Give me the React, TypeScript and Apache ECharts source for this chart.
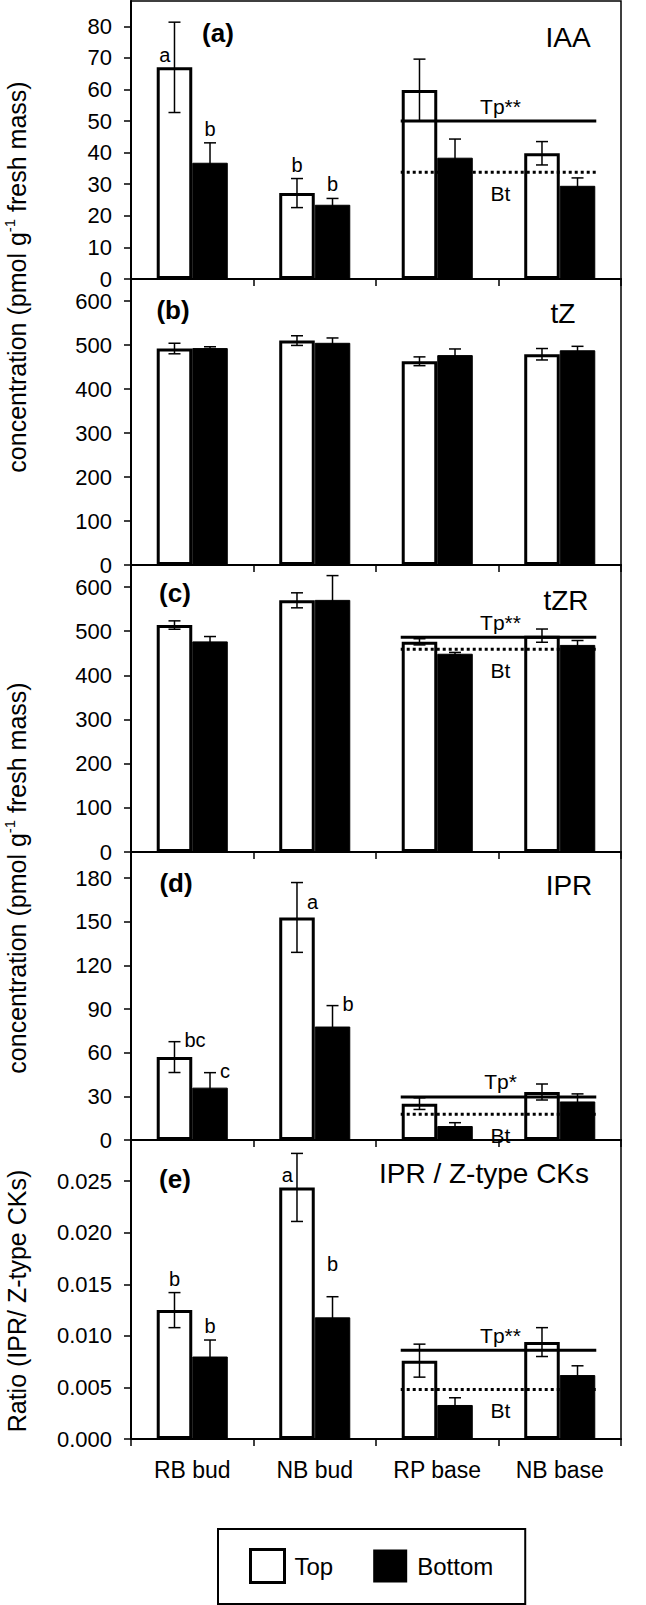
import React, { useEffect, useRef } from "react";
import * as echarts from "echarts";

const FONT = "'Liberation Sans', Arial, Helvetica, sans-serif";

const CATEGORIES = ["RB bud", "NB bud", "RP base", "NB base"];
const SERIES_NAMES = ["Top", "Bottom"];

// (a) IAA
const IAA_TOP = [67, 27.2, 59.8, 39.8];
const IAA_TOP_ERR = [14.3, 4.6, 9.8, 3.7];
const IAA_BOT = [36.8, 23.5, 38.4, 29.5];
const IAA_BOT_ERR = [6.3, 2.0, 5.9, 2.5];
const IAA_TP = 50;
const IAA_BT = 33.8;

// (b) tZ
const TZ_TOP = [492, 510, 463, 479];
const TZ_TOP_ERR = [12, 11, 10, 13];
const TZ_BOT = [493, 505, 477, 488];
const TZ_BOT_ERR = [3, 11, 14, 9];

// (c) tZR
const TZR_TOP = [514, 570, 476, 490];
const TZR_TOP_ERR = [9.5, 17, 7, 15];
const TZR_BOT = [477, 571, 449, 469];
const TZR_BOT_ERR = [11, 55, 3, 10];
const TZR_TP = 486.5;
const TZR_BT = 459;

// (d) IPR
const IPR_TOP = [57, 153, 25, 33];
const IPR_TOP_ERR = [10.6, 24, 4, 5.5];
const IPR_BOT = [36, 78, 9.6, 26.5];
const IPR_BOT_ERR = [10.3, 14.4, 2.3, 5.2];
const IPR_TP = 29.6;
const IPR_BT = 17.7;

// (e) IPR / Z-type CKs
const RATIO_TOP = [0.0125, 0.0244, 0.0076, 0.0094];
const RATIO_TOP_ERR = [0.0017, 0.0033, 0.0016, 0.0014];
const RATIO_BOT = [0.008, 0.0118, 0.0033, 0.0062];
const RATIO_BOT_ERR = [0.0016, 0.002, 0.0007, 0.0009];
const RATIO_TP = 0.0086;
const RATIO_BT = 0.0048;

// significance letters
const IAA_LETTERS = [["a", "b", "", ""], ["b", "b", "", ""]];
const IAA_PLACES = [["left", "top", "", ""], ["top", "top", "", ""]];
const IPR_LETTERS = [["bc", "a", "", ""], ["c", "b", "", ""]];
const IPR_PLACES = [["right", "rightBar", "", ""], ["right", "right", "", ""]];
const RATIO_LETTERS = [["b", "a", "", ""], ["b", "b", "", ""]];
const RATIO_PLACES = [["top", "left", "", ""], ["top", "topHigh", "", ""]];

const BAR_GAP_CAT = 0.42;
const BAR_FRAC = (1 - BAR_GAP_CAT) / 2;

type Panel = {
  top: number;
  height: number;
  max: number;
  interval: number;
  dec: number;
  vals: number[][];
  errs: number[][];
  tp?: number;
  bt?: number;
  tpLabel?: string;
  letters?: string[][];
  places?: string[][];
  tag: string;
  tagX: number;
  tagY: number;
  name: string;
  nameX: number;
  nameY: number;
};

const PANELS: Panel[] = [
  { top: 1, height: 278, max: 88, interval: 10, dec: 0, vals: [IAA_TOP, IAA_BOT], errs: [IAA_TOP_ERR, IAA_BOT_ERR], tp: IAA_TP, bt: IAA_BT, tpLabel: "Tp**", letters: IAA_LETTERS, places: IAA_PLACES, tag: "(a)", tagX: 218, tagY: 33, name: "IAA", nameX: 568, nameY: 37 },
  { top: 279, height: 286, max: 650, interval: 100, dec: 0, vals: [TZ_TOP, TZ_BOT], errs: [TZ_TOP_ERR, TZ_BOT_ERR], tag: "(b)", tagX: 173, tagY: 310, name: "tZ", nameX: 563, nameY: 313 },
  { top: 565, height: 287, max: 650, interval: 100, dec: 0, vals: [TZR_TOP, TZR_BOT], errs: [TZR_TOP_ERR, TZR_BOT_ERR], tp: TZR_TP, bt: TZR_BT, tpLabel: "Tp**", tag: "(c)", tagX: 175, tagY: 593, name: "tZR", nameX: 566, nameY: 600 },
  { top: 852, height: 288, max: 198, interval: 30, dec: 0, vals: [IPR_TOP, IPR_BOT], errs: [IPR_TOP_ERR, IPR_BOT_ERR], tp: IPR_TP, bt: IPR_BT, tpLabel: "Tp*", letters: IPR_LETTERS, places: IPR_PLACES, tag: "(d)", tagX: 176, tagY: 883, name: "IPR", nameX: 569, nameY: 885 },
  { top: 1140, height: 299, max: 0.029, interval: 0.005, dec: 3, vals: [RATIO_TOP, RATIO_BOT], errs: [RATIO_TOP_ERR, RATIO_BOT_ERR], tp: RATIO_TP, bt: RATIO_BT, tpLabel: "Tp**", letters: RATIO_LETTERS, places: RATIO_PLACES, tag: "(e)", tagX: 175, tagY: 1179, name: "IPR / Z-type CKs", nameX: 484, nameY: 1173 },
];

const Y_TITLES = [
  { text: "concentration (pmol g{sup|-1} fresh mass)", y: 277 },
  { text: "concentration (pmol g{sup|-1} fresh mass)", y: 878 },
  { text: "Ratio (IPR/ Z-type CKs)", y: 1301 },
];

function letterEl(text: string, place: string, x: number, yErr: number, yBar: number) {
  let px = x, py = yErr - 14, align = "center";
  if (place === "left") { px = x - 4; py = yBar - 12; align = "right"; }
  else if (place === "right") { px = x + 10; py = yErr - 2; align = "left"; }
  else if (place === "rightBar") { px = x + 10; py = yBar - 15; align = "left"; }
  else if (place === "topHigh") { py = yErr - 33; }
  return {
    type: "text",
    x: px,
    y: py,
    style: { text, fill: "#000", fontSize: 20, fontFamily: FONT, align, verticalAlign: "middle" },
  };
}

function buildOption() {
  const grid: any[] = [];
  const xAxis: any[] = [];
  const yAxis: any[] = [];
  const series: any[] = [];

  PANELS.forEach((p, i) => {
    grid.push({ left: 131, right: 25, top: p.top, height: p.height, show: true, borderColor: "#000", borderWidth: 1.5 });
    xAxis.push({
      type: "category",
      gridIndex: i,
      data: CATEGORIES,
      boundaryGap: true,
      axisLine: { lineStyle: { color: "#000", width: 2 } },
      axisTick: { show: true, length: 7, lineStyle: { color: "#000", width: 1.5 } },
      axisLabel: { show: i === PANELS.length - 1, color: "#000", fontSize: 23, fontFamily: FONT, margin: 19 },
    });
    yAxis.push({
      type: "value",
      gridIndex: i,
      min: 0,
      max: p.max,
      interval: p.interval,
      splitLine: { show: false },
      axisLine: { show: true, lineStyle: { color: "#000", width: 2 } },
      axisTick: { show: true, length: 7, lineStyle: { color: "#000", width: 1.5 } },
      axisLabel: {
        color: "#000",
        fontSize: 22,
        lineHeight: 17,
        fontFamily: FONT,
        margin: 19,
        showMaxLabel: false,
        formatter: (v: number) => {
          const k = v / p.interval;
          if (Math.abs(k - Math.round(k)) > 1e-6) return "";
          return v.toFixed(p.dec);
        },
      },
    });

    series.push({
      type: "bar",
      name: SERIES_NAMES[0],
      xAxisIndex: i,
      yAxisIndex: i,
      data: p.vals[0],
      barCategoryGap: "42%",
      barGap: "0%",
      itemStyle: { color: "#fff", borderColor: "#000", borderWidth: 3 },
      z: 2,
    });
    series.push({
      type: "bar",
      name: SERIES_NAMES[1],
      xAxisIndex: i,
      yAxisIndex: i,
      data: p.vals[1],
      barCategoryGap: "42%",
      barGap: "0%",
      itemStyle: { color: "#000", borderColor: "#000", borderWidth: 1 },
      z: 2,
    });

    const errData: number[][] = [];
    for (let s = 0; s < 2; s++) {
      for (let c = 0; c < CATEGORIES.length; c++) {
        errData.push([c, p.vals[s][c], p.errs[s][c], s]);
      }
    }
    series.push({
      type: "custom",
      xAxisIndex: i,
      yAxisIndex: i,
      data: errData,
      encode: { x: 0, y: 1 },
      z: 5,
      silent: true,
      renderItem: (params: any, api: any) => {
        const c = api.value(0), v = api.value(1), e = api.value(2), s = api.value(3);
        const p0 = api.coord([0, 0]);
        const p1 = api.coord([1, 0]);
        const band = p1[0] - p0[0];
        const bw = band * BAR_FRAC;
        const base = api.coord([c, v]);
        const x = base[0] + (s === 0 ? -bw / 2 : bw / 2);
        const yT = api.coord([c, v + e])[1];
        const yB = api.coord([c, v - e])[1];
        const st = { stroke: "#000", lineWidth: 1.5 };
        const children: any[] = [
          { type: "line", shape: { x1: x, y1: yT, x2: x, y2: yB }, style: st },
          { type: "line", shape: { x1: x - 6, y1: yT, x2: x + 6, y2: yT }, style: st },
          { type: "line", shape: { x1: x - 6, y1: yB, x2: x + 6, y2: yB }, style: st },
        ];
        if (p.letters) {
          const t = p.letters[s][c];
          if (t) children.push(letterEl(t, p.places![s][c], x, yT, base[1]));
        }
        return { type: "group", children };
      },
    });

    if (p.tp !== undefined) {
      series.push({
        type: "custom",
        xAxisIndex: i,
        yAxisIndex: i,
        data: [[2, p.tp, 0], [2, p.bt, 1]],
        encode: { x: 0, y: 1 },
        z: 6,
        silent: true,
        renderItem: (params: any, api: any) => {
          const v = api.value(1), k = api.value(2);
          const a = api.coord([2, v]);
          const b = api.coord([3, v]);
          const bw = (b[0] - a[0]) * BAR_FRAC;
          const x1 = a[0] - bw - 1;
          const x2 = b[0] + bw + 1;
          const mid = (a[0] + b[0]) / 2;
          return {
            type: "group",
            children: [
              {
                type: "line",
                shape: { x1, y1: a[1], x2, y2: a[1] },
                style: { stroke: "#000", lineWidth: 3, lineDash: k ? [3, 3] : null },
              },
              {
                type: "text",
                x: mid + 2,
                y: k ? a[1] + 21 : a[1] - 15,
                style: { text: k ? "Bt" : p.tpLabel, fill: "#000", fontSize: 21, fontFamily: FONT, align: "center", verticalAlign: "middle" },
              },
            ],
          };
        },
      });
    }
  });

  const graphic: any[] = [];
  PANELS.forEach((p) => {
    graphic.push({
      type: "text",
      x: p.tagX,
      y: p.tagY,
      style: { text: p.tag, fill: "#000", fontSize: 26, fontWeight: "bold", fontFamily: FONT, align: "center", verticalAlign: "middle" },
    });
    graphic.push({
      type: "text",
      x: p.nameX,
      y: p.nameY,
      style: { text: p.name, fill: "#000", fontSize: 28, fontFamily: FONT, align: "center", verticalAlign: "middle" },
    });
  });
  Y_TITLES.forEach((t) => {
    graphic.push({
      type: "text",
      x: 17,
      y: t.y,
      rotation: Math.PI / 2,
      style: {
        text: t.text,
        fill: "#000",
        fontSize: 25,
        fontFamily: FONT,
        align: "center",
        verticalAlign: "middle",
        lineHeight: 30,
        rich: { sup: { fontSize: 15, fontFamily: FONT, fill: "#000", verticalAlign: "top", lineHeight: 20 } },
      },
    });
  });

  return {
    animation: false,
    backgroundColor: "#fff",
    textStyle: { fontFamily: FONT },
    grid,
    xAxis,
    yAxis,
    series,
    graphic,
    legend: {
      data: [
        { name: "Top", itemStyle: { color: "#fff", borderColor: "#000", borderWidth: 3 } },
        { name: "Bottom", itemStyle: { color: "#000", borderColor: "#000", borderWidth: 0 } },
      ],
      icon: "rect",
      left: 218,
      top: 1529,
      orient: "horizontal",
      itemWidth: 34,
      itemHeight: 33,
      itemGap: 40,
      padding: [19, 32, 20, 31],
      borderColor: "#000",
      borderWidth: 2,
      selectedMode: false,
      textStyle: { fontSize: 24, color: "#000", fontFamily: FONT, padding: [0, 0, 0, 5] },
    },
  };
}

export default function App() {
  const ref = useRef<HTMLDivElement>(null);
  useEffect(() => {
    if (!ref.current) return;
    const chart = echarts.init(ref.current, undefined, { renderer: "svg" });
    chart.setOption(buildOption() as any);
    return () => chart.dispose();
  }, []);
  return (
    <div
      ref={ref}
      style={{ position: "absolute", left: 0, top: 0, width: 646, height: 1605, background: "#fff" }}
    />
  );
}
